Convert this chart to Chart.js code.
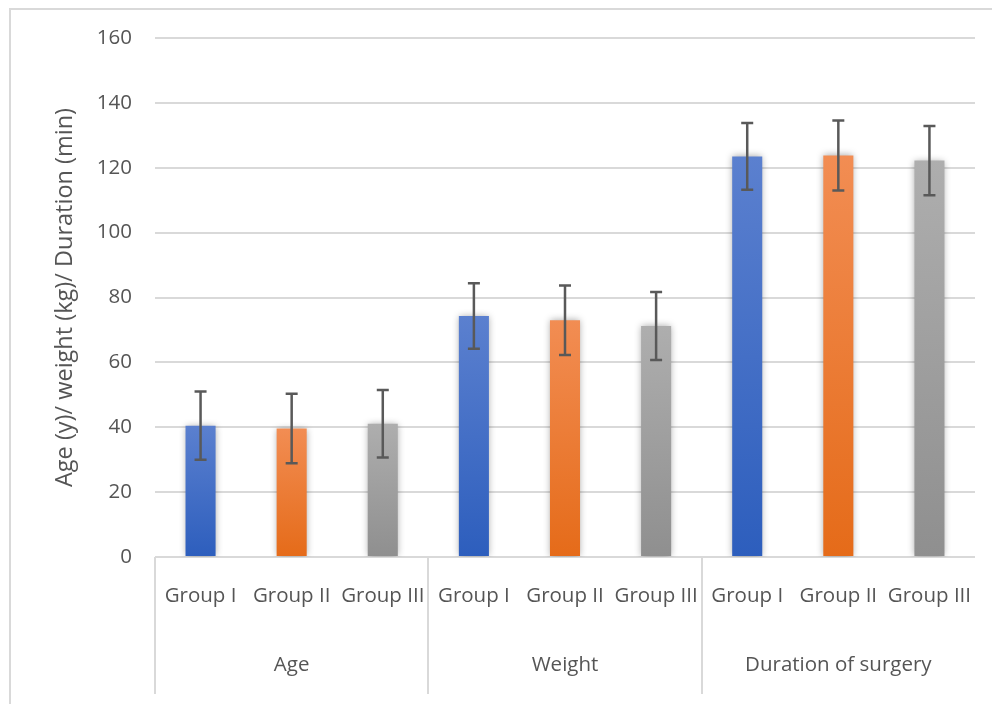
<!DOCTYPE html>
<html>
<head>
<meta charset="utf-8">
<script src="https://cdn.jsdelivr.net/npm/chart.js@4.4.1/dist/chart.umd.min.js"></script>
<style>
  html, body { margin: 0; padding: 0; background: #fff; }
  #wrap { position: relative; width: 992px; height: 704px; }
  #frame { position: absolute; left: 9px; top: 8px; width: 1000px; height: 720px; border: 2px solid #d9d9d9; box-sizing: border-box; }
  canvas { position: absolute; left: 0; top: 0; }
</style>
</head>
<body>
<div id="wrap">
  <div id="frame"></div>
  <canvas id="chart" width="992" height="704"></canvas>
</div>
<script>
const groups = ['Group I', 'Group II', 'Group III', 'Group I', 'Group II', 'Group III', 'Group I', 'Group II', 'Group III'];
const measures = ['Age', 'Weight', 'Duration of surgery'];
const means = [40.5, 39.6, 41.1, 74.3, 73.0, 71.2, 123.5, 123.8, 122.2];
const sds = [10.5, 10.7, 10.4, 10.1, 10.7, 10.5, 10.3, 10.8, 10.7];
const yTicks = [0, 20, 40, 60, 80, 100, 120, 140, 160];

// top / bottom colour of each group's bar
const shades = [
  ['#5b80cf', '#2d5ebd'],
  ['#f28d53', '#e56b19'],
  ['#aeaeae', '#8f8f8f']
];

const fontFamily = '"Open Sans", "DejaVu Sans", sans-serif';
const textColor = '#555555';
const gridColor = '#d9d9d9';

function barFill(ctx) {
  const chart = ctx.chart;
  if (!chart.chartArea || !chart.scales.y) return shades[ctx.dataIndex % 3][0];
  const yScale = chart.scales.y;
  const top = yScale.getPixelForValue(means[ctx.dataIndex]);
  const bottom = yScale.getPixelForValue(0);
  const g = chart.ctx.createLinearGradient(0, top, 0, bottom);
  const c = shades[ctx.dataIndex % 3];
  g.addColorStop(0, c[0]);
  g.addColorStop(1, c[1]);
  return g;
}

// soft shadow behind the bars
const barShadow = {
  id: 'barShadow',
  beforeDatasetDraw(chart) {
    const c = chart.ctx;
    c.save();
    c.shadowColor = 'rgba(0,0,0,0.35)';
    c.shadowBlur = 7;
  },
  afterDatasetDraw(chart) {
    chart.ctx.restore();
  }
};

// mean +/- sd whiskers
const errorBars = {
  id: 'errorBars',
  afterDatasetsDraw(chart) {
    const c = chart.ctx;
    const meta = chart.getDatasetMeta(0);
    const yScale = chart.scales.y;
    c.save();
    c.strokeStyle = '#595959';
    c.lineWidth = 2.5;
    meta.data.forEach((bar, i) => {
      const hi = yScale.getPixelForValue(means[i] + sds[i]);
      const lo = yScale.getPixelForValue(means[i] - sds[i]);
      const x = bar.x;
      c.beginPath();
      c.moveTo(x, hi); c.lineTo(x, lo);
      c.moveTo(x - 6, hi); c.lineTo(x + 6, hi);
      c.moveTo(x - 6, lo); c.lineTo(x + 6, lo);
      c.stroke();
    });
    c.restore();
  }
};

new Chart(document.getElementById('chart'), {
  type: 'bar',
  data: {
    labels: groups,
    datasets: [{
      data: means,
      backgroundColor: barFill,
      borderWidth: 0,
      categoryPercentage: 1,
      barPercentage: 0.33
    }]
  },
  options: {
    responsive: false,
    animation: false,
    layout: { padding: { top: 38, right: 17, bottom: 10, left: 0 } },
    plugins: { legend: { display: false }, tooltip: { enabled: false } },
    scales: {
      x: {
        position: 'bottom',
        offset: true,
        border: { display: false },
        grid: {
          offset: true,
          drawOnChartArea: false,
          drawTicks: true,
          tickLength: 137,
          lineWidth: 2,
          color: (ctx) => (ctx.index % 3 === 0 ? gridColor : 'rgba(0,0,0,0)')
        },
        ticks: {
          autoSkip: false,
          maxRotation: 0,
          padding: -110,
          color: textColor,
          font: { family: fontFamily, size: 20.5 }
        },
        afterFit(scale) { scale.height = 51; }
      },
      x2: {
        type: 'category',
        position: 'bottom',
        labels: measures,
        offset: true,
        border: { display: false },
        grid: { display: false },
        ticks: {
          autoSkip: false,
          maxRotation: 0,
          padding: 37,
          color: textColor,
          font: { family: fontFamily, size: 20.5 }
        },
        afterFit(scale) { scale.height = 86; }
      },
      y: {
        min: 0,
        max: 160,
        afterBuildTicks(scale) { scale.ticks = yTicks.map(v => ({ value: v })); },
        border: { display: false },
        grid: { color: gridColor, lineWidth: 2, drawTicks: false },
        ticks: {
          padding: 23,
          color: textColor,
          font: { family: fontFamily, size: 20.5 }
        },
        title: {
          display: true,
          text: 'Age (y)/ weight (kg)/ Duration (min)',
          color: textColor,
          font: { family: fontFamily, size: 23.5 },
          padding: { top: 51, bottom: 0 }
        },
        afterFit(scale) { scale.width = 155; }
      }
    }
  },
  plugins: [barShadow, errorBars]
});
</script>
</body>
</html>
